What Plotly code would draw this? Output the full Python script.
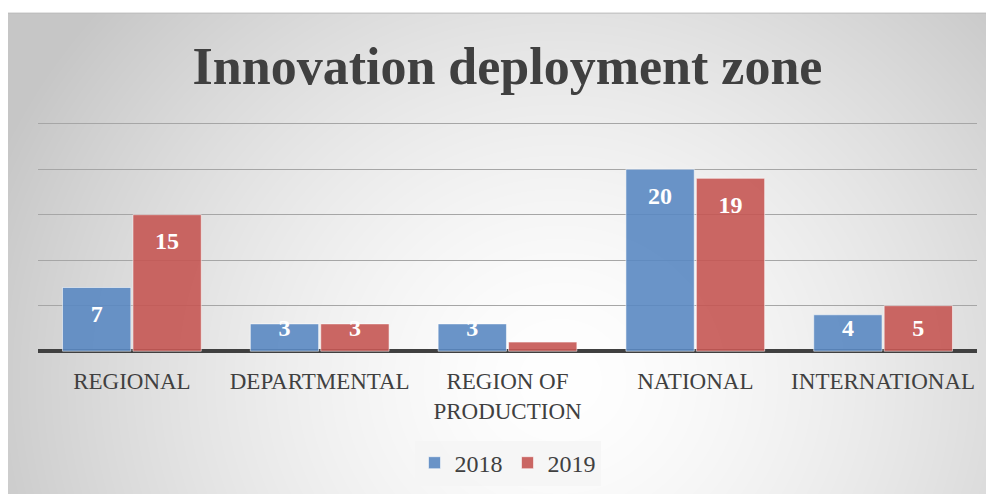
import base64
import struct
import zlib

import numpy as np
import plotly.graph_objects as go

# ---------------- data ----------------
categories = ["REGIONAL", "DEPARTMENTAL", "REGION OF<br>PRODUCTION", "NATIONAL", "INTERNATIONAL"]
values_2018 = [7, 3, 3, 20, 4]
values_2019 = [15, 3, 1, 19, 5]
labels_2018 = ["7", "3", "3", "20", "4"]
labels_2019 = ["15", "3", "", "19", "5"]
series_names = ["2018", "2019"]
title_text = "Innovation deployment zone"

# ---------------- layout constants (page pixels; body has an 8px margin) ----------------
OFF = 8
PAGE_W, PAGE_H = 994, 494
W, H = PAGE_W - OFF, PAGE_H - OFF
Y_MIN, Y_MAX = -0.2, 25.3
PX_PER_UNIT = (351.2 - 124) / 25
PLOT_TOP = 124 - (Y_MAX - 25) * PX_PER_UNIT - OFF
PLOT_BOT = 351.2 - Y_MIN * PX_PER_UNIT - OFF
ML, MR = 38 - OFF, 17
MT, MB = PLOT_TOP, H - PLOT_BOT

BLUE = "rgba(90,136,194,0.9)"
RED = "rgba(197,86,83,0.9)"
TXT = "#404040"
SERIF = "Liberation Serif, DejaVu Serif, serif"


def label_positions(vals):
    # labels sit ~28px below the bar end, but never lower than ~21px above the axis
    return [max(v - 28.5 / PX_PER_UNIT, 21 / PX_PER_UNIT) for v in vals]


# ---------------- background gradient image ----------------
def gradient_png():
    x0, y0 = OFF, 13  # page coords of top-left of chart frame
    w, h = PAGE_W - x0, PAGE_H - y0
    xs = np.arange(w) + x0
    ys = np.arange(h) + y0
    X, Y = np.meshgrid(xs, ys)
    cx, cy, ax, ay = 560, 380, 600, 560
    r = np.sqrt(((X - cx) / ax) ** 2 + ((Y - cy) / ay) ** 2)
    v = 255 - 55 * r ** 1.5
    v = np.clip(v, 198, 255).astype(np.uint8)
    v[0, :] = 188
    raw = b"".join(b"\x00" + v[i].tobytes() for i in range(h))

    def chunk(tag, data):
        c = struct.pack(">I", len(data)) + tag + data
        return c + struct.pack(">I", zlib.crc32(tag + data) & 0xFFFFFFFF)

    png = b"\x89PNG\r\n\x1a\n"
    png += chunk(b"IHDR", struct.pack(">IIBBBBB", w, h, 8, 0, 0, 0, 0))
    png += chunk(b"IDAT", zlib.compress(raw, 9))
    png += chunk(b"IEND", b"")
    return "data:image/png;base64," + base64.b64encode(png).decode(), x0 - OFF, y0 - OFF, w, h


src, gx0, gy0, gw, gh = gradient_png()
pw, ph = W - ML - MR, H - MT - MB

fig = go.Figure()
for name, vals, color in [(series_names[0], values_2018, BLUE), (series_names[1], values_2019, RED)]:
    fig.add_trace(go.Bar(
        x=categories, y=vals, name=name, offsetgroup=name,
        marker=dict(color=color, line=dict(color="rgba(255,255,255,0.55)", width=1)),
        hoverinfo="skip",
    ))
for name, vals, labs in [(series_names[0], values_2018, labels_2018), (series_names[1], values_2019, labels_2019)]:
    fig.add_trace(go.Scatter(
        x=categories, y=label_positions(vals), text=labs, mode="text", offsetgroup=name,
        textposition="middle center",
        textfont=dict(family=SERIF, size=24, color="white", weight="bold"),
        showlegend=False, hoverinfo="skip", cliponaxis=False,
    ))

fig.update_layout(
    width=W, height=H,
    margin=dict(l=ML, r=MR, t=MT, b=MB, pad=0, autoexpand=False),
    paper_bgcolor="white",
    plot_bgcolor="rgba(0,0,0,0)",
    barmode="group", bargap=0.25, bargroupgap=0.03,
    scattermode="group", scattergap=0.25,
    title=dict(
        text=title_text, x=0.5, xref="paper", xanchor="center",
        y=1 - (66 - OFF) / H, yref="container", yanchor="middle",
        font=dict(family=SERIF, size=52, color=TXT, weight="bold"),
    ),
    legend=dict(
        orientation="h", x=0.5, xanchor="center",
        y=(H - MB - (463 - OFF)) / ph, yanchor="middle",
        font=dict(family=SERIF, size=24, color=TXT),
        bgcolor="rgba(244,244,244,0.75)",
        itemclick=False, itemdoubleclick=False,
    ),
    xaxis=dict(
        showgrid=False, zeroline=False, showline=False, ticks="",
        tickfont=dict(family=SERIF, size=23, color=TXT),
        ticklabelstandoff=12,
        fixedrange=True,
    ),
    yaxis=dict(
        range=[Y_MIN, Y_MAX], dtick=5, tick0=0,
        showgrid=True, gridcolor="#a6a6a6", gridwidth=1,
        zeroline=True, zerolinecolor="#404040", zerolinewidth=4,
        showticklabels=False, ticks="", fixedrange=True,
    ),
    showlegend=True,
    images=[dict(
        source=src, xref="paper", yref="paper",
        x=(gx0 - ML) / pw, y=(H - MB - gy0) / ph,
        sizex=gw / pw, sizey=gh / ph,
        xanchor="left", yanchor="top", sizing="stretch", layer="below",
    )],
)

fig.write_html("out.html", config={"displayModeBar": False})
